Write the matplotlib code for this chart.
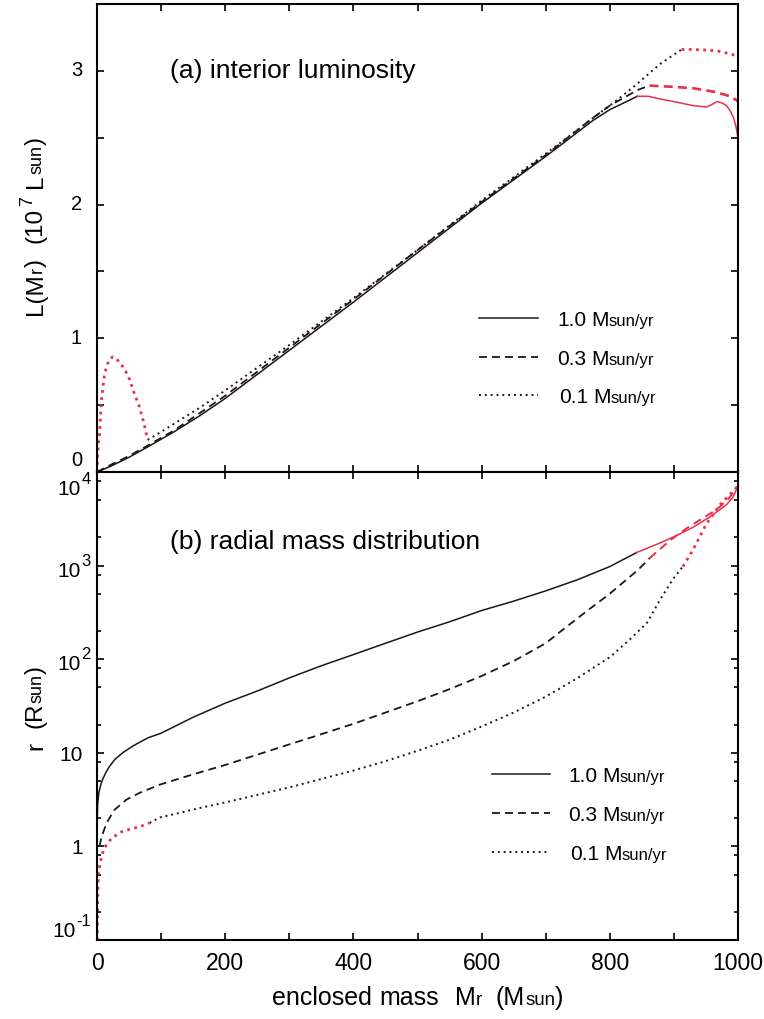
import matplotlib
matplotlib.use("Agg")
import matplotlib.pyplot as plt
from matplotlib import transforms
from matplotlib.lines import Line2D
from matplotlib.ticker import FixedLocator, LogLocator, NullFormatter, MultipleLocator

plt.rcParams['font.family'] = ['Liberation Sans', 'DejaVu Sans']
plt.rcParams['mathtext.fontset'] = 'custom'
plt.rcParams['mathtext.rm'] = 'Liberation Sans'
plt.rcParams['mathtext.it'] = 'Liberation Sans'

# ---------------- data: panel (a) interior luminosity (10^7 Lsun) ----------------
lum_m_solid = [0, 20, 50, 80, 120, 160, 200, 250, 300, 400, 500, 600, 700, 722, 774, 800, 826, 843]
lum_solid = [0, 0.04, 0.11, 0.19, 0.30, 0.42, 0.55, 0.73, 0.91, 1.27, 1.64, 2.01, 2.36, 2.44, 2.63, 2.71, 2.77, 2.81]
lum_m_solid_red = [843, 860, 878, 900, 930, 951, 960, 967, 975, 982, 988, 993, 997, 1000]
lum_solid_red = [2.81, 2.81, 2.79, 2.77, 2.74, 2.73, 2.75, 2.77, 2.76, 2.74, 2.70, 2.65, 2.58, 2.50]

lum_m_dash = [0, 20, 50, 80, 120, 160, 200, 250, 300, 400, 500, 600, 700, 774, 800, 826, 845, 862]
lum_dash = [0, 0.05, 0.12, 0.20, 0.31, 0.44, 0.57, 0.75, 0.93, 1.29, 1.66, 2.02, 2.37, 2.65, 2.74, 2.81, 2.86, 2.89]
lum_m_dash_red = [862, 900, 930, 967, 987, 998, 1000]
lum_dash_red = [2.89, 2.88, 2.87, 2.84, 2.81, 2.78, 2.77]

lum_m_dot_red_low = [0, 1, 2, 4, 7, 12, 18, 24, 30, 35, 43, 51, 58, 66, 73, 79]
lum_dot_red_low = [0, 0.12, 0.20, 0.29, 0.54, 0.74, 0.83, 0.86, 0.85, 0.82, 0.77, 0.69, 0.59, 0.49, 0.37, 0.24]
lum_m_dot = [79, 100, 120, 160, 200, 250, 300, 400, 500, 600, 700, 750, 780, 811, 842, 878, 912]
lum_dot = [0.24, 0.30, 0.36, 0.48, 0.61, 0.78, 0.95, 1.30, 1.66, 2.03, 2.38, 2.56, 2.67, 2.78, 2.90, 3.05, 3.16]
lum_m_dot_red = [912, 930, 950, 967, 985, 1000]
lum_dot_red = [3.16, 3.16, 3.155, 3.15, 3.13, 3.11]

# ---------------- data: panel (b) radius r (Rsun) ----------------
rad_m_solid = [0.5, 1, 3, 6, 9, 14, 19, 28, 40, 55, 66, 80, 100, 150, 200, 250, 300, 350,
               400, 450, 500, 550, 600, 650, 700, 750, 800, 842]
rad_solid = [1.95, 2.82, 3.80, 4.57, 5.25, 6.17, 7.08, 8.51, 10.0, 11.7, 12.9, 14.5, 16.2, 24.0,
             33.9, 45.7, 63.1, 85.1, 112, 148, 195, 251, 331, 417, 537, 708, 977, 1380]
rad_m_solid_red = [842, 878, 910, 930, 956, 982, 992, 1000]
rad_solid_red = [1380, 1740, 2190, 2570, 3310, 4470, 5370, 7080]

rad_m_dash = [4, 7, 15, 27, 46, 66, 98, 150, 200, 250, 300, 350, 400, 450, 500, 550, 600, 650,
              700, 722, 750, 773, 800, 826, 845, 862]
rad_dash = [1.0, 1.26, 1.78, 2.45, 3.16, 3.72, 4.57, 5.89, 7.41, 9.55, 12.3, 15.8, 20.4, 26.9, 35.5,
            47.9, 66.1, 95.5, 148, 195, 275, 363, 501, 708, 912, 1200]
rad_m_dash_red = [862, 894, 920, 941, 960, 972, 986, 1000]
rad_dash_red = [1200, 1860, 2510, 3090, 3720, 4270, 5250, 7080]

rad_m_dot_red_low = [0.3, 1.0, 2.3, 7, 12, 23, 40, 55, 66, 82]
rad_dot_red_low = [0.1, 0.269, 0.525, 0.776, 0.977, 1.23, 1.45, 1.55, 1.62, 1.78]
rad_m_dot = [82, 98, 130, 160, 200, 250, 300, 350, 400, 450, 500, 550, 600, 650, 700, 750, 800,
             831, 858, 878, 898, 914]
rad_dot = [1.78, 2.04, 2.29, 2.57, 2.95, 3.55, 4.27, 5.25, 6.46, 8.13, 10.5, 13.8, 19.1, 26.9, 39.8,
           63.1, 105, 162, 245, 427, 708, 977]
rad_m_dot_red = [914, 930, 951, 972, 986, 1000]
rad_dot_red = [977, 1480, 2820, 4470, 5620, 7080]

legend_labels = ["1.0", "0.3", "0.1"]
lum_yticks = [0, 1, 2, 3]
rad_yticks = [1e4, 1e3, 1e2, 10, 1, 0.1]
rad_ytick_base = ["10", "10", "10", "10", "1", "10"]
rad_ytick_exp = ["4", "3", "2", "", "", "-1"]
mass_ticks = [0, 200, 400, 600, 800, 1000]

# ---------------- styles ----------------
BLACK = '#1e1616'
RED = '#e8304a'
W, H = 764, 1019
fig = plt.figure(figsize=(W / 100, H / 100), dpi=100)

L_AX, R_AX = 97, 738
ax1 = fig.add_axes([L_AX / W, 1 - 472 / H, (R_AX - L_AX) / W, 468 / H])
ax2 = fig.add_axes([L_AX / W, 1 - 940 / H, (R_AX - L_AX) / W, 468 / H])

solid_k = dict(color=BLACK, lw=1.1, ls='-')
solid_r = dict(color=RED, lw=1.1, ls='-')
dash_k = dict(color=BLACK, lw=1.3, dashes=[4.4, 2.8], dash_capstyle='butt')
dash_r = dict(color=RED, lw=1.9, dashes=[3.4, 2.0], dash_capstyle='butt')
dash_r_b = dict(color=RED, lw=1.4, dashes=[4.4, 2.8], dash_capstyle='butt')
dot_k = dict(color=BLACK, lw=1.4, dashes=[1.0, 2.0], dash_capstyle='butt')
dot_r = dict(color=RED, lw=2.0, dashes=[1.0, 1.6], dash_capstyle='butt')

# panel a
ax1.plot(lum_m_solid, lum_solid, **solid_k)
ax1.plot(lum_m_solid_red, lum_solid_red, **solid_r)
ax1.plot(lum_m_dash, lum_dash, **dash_k)
ax1.plot(lum_m_dash_red, lum_dash_red, **dash_r)
ax1.plot(lum_m_dot, lum_dot, **dot_k)
ax1.plot(lum_m_dot_red, lum_dot_red, **dot_r)
ax1.plot(lum_m_dot_red_low, lum_dot_red_low, **dot_r)

# panel b
ax2.plot(rad_m_solid, rad_solid, **solid_k)
ax2.plot(rad_m_solid_red, rad_solid_red, **solid_r)
ax2.plot(rad_m_dash, rad_dash, **dash_k)
ax2.plot(rad_m_dash_red, rad_dash_red, **dash_r_b)
ax2.plot(rad_m_dot, rad_dot, **dot_k)
ax2.plot(rad_m_dot_red, rad_dot_red, **dot_r)
ax2.plot(rad_m_dot_red_low, rad_dot_red_low, **dot_r)

# axes setup
for ax in (ax1, ax2):
    ax.set_xlim(0, 1000)
    for s in ax.spines.values():
        s.set_linewidth(1.5)
    ax.xaxis.set_major_locator(MultipleLocator(100))
    ax.tick_params(axis='both', which='both', direction='in', top=True, right=True,
                   width=1.2, labelleft=False, labelbottom=False)
    ax.tick_params(axis='both', which='major', length=5)
    ax.tick_params(axis='both', which='minor', length=3)

ax1.set_ylim(0, 3.5)
ax1.yaxis.set_major_locator(MultipleLocator(0.5))

ax2.set_yscale('log')
ax2.set_ylim(0.1, 1e4)
ax2.yaxis.set_major_locator(LogLocator(base=10, numticks=20))
ax2.yaxis.set_minor_locator(LogLocator(base=10, subs=(2, 5, 8), numticks=20))
ax2.yaxis.set_minor_formatter(NullFormatter())
ax2.xaxis.set_major_locator(FixedLocator(mass_ticks))
ax2.xaxis.set_minor_locator(MultipleLocator(100))
ax2.tick_params(axis='x', which='minor', length=5)
ax2.tick_params(axis='x', which='major', labelbottom=True, labelsize=16.5, pad=9)
ax2.set_xticklabels([str(v) for v in mass_ticks])
ax1.xaxis.set_minor_locator(MultipleLocator(100))
ax1.tick_params(axis='x', which='minor', length=5)

# top panel y tick labels (end label nudged up like the original)
tr1 = transforms.blended_transform_factory(ax1.transAxes, ax1.transData)
for v in lum_yticks:
    off = transforms.ScaledTranslation(0, 12 / 100 if v == 0 else 0, fig.dpi_scale_trans)
    ax1.text(-15 / (R_AX - L_AX), v, str(v), transform=tr1 + off, ha='right', va='center',
             fontsize=14.5)


# ---------------- rich text helper (mixed sizes) ----------------
def px(x, y):
    return x / W, 1 - y / H


def rich(pieces, x, y, rot=0, align='left'):
    r = fig.canvas.get_renderer()
    items = []
    total = 0.0
    for s, size, rise in pieces:
        if s == '':
            items.append((None, 0, size))
            total += size
            continue
        t = fig.text(0, 0, s, fontsize=size, rotation=rot, rotation_mode='anchor',
                     ha='left', va='baseline')
        bb = t.get_window_extent(r)
        ln = bb.width if rot == 0 else bb.height
        items.append((t, rise, ln))
        total += ln
    pos = {'left': 0.0, 'center': -total / 2, 'right': -total}[align]
    for t, rise, ln in items:
        if t is not None:
            if rot == 0:
                t.set_position(px(x + pos, y - rise))
            else:
                t.set_position(px(x - rise, y - pos))
        pos += ln


# bottom panel y tick labels: "10" with a large raised exponent
for v, base, ex in zip(rad_yticks, rad_ytick_base, rad_ytick_exp):
    ty = H - ax2.transData.transform((0, v))[1]
    if ex:
        dy = 11
        if v == 1e4:
            dy = 23
        elif v == 0.1:
            dy = -3
        rich([(base, 15, 0), ('', 1, 0), (ex, 12, 11)], 91, ty + dy, align='right')
    else:
        rich([(base, 15, 0)], 83, ty + 8, align='right')

# titles
fig.text(*px(170, 78), "(a) interior luminosity", fontsize=19, ha='left', va='baseline')
fig.text(*px(170, 549), "(b) radial mass distribution", fontsize=19, ha='left', va='baseline')

BIG = 15
SMALL = 12


def legend(rows_y, line_x0, line_x1, text_x, styles):
    for (yb, lab, st, tx) in zip(rows_y, legend_labels, styles, text_x):
        fig.add_artist(Line2D([line_x0 / W, line_x1 / W], [1 - (yb - 8) / H] * 2,
                              transform=fig.transFigure, **st))
        rich([(lab, BIG, 0), ('', 5, 0), ('M', BIG, 0), ('sun/yr', SMALL, 0)], tx, yb)


legend([326, 365, 403], 479, 538, [557, 557, 559], [solid_k, dash_k, dot_k])
legend([782, 821, 860], 492, 550, [568, 568, 570], [solid_k, dash_k, dot_k])

# axis labels
AX_BIG = 17.5
AX_SMALL = 13
rich([('L(M', AX_BIG, 0), ('r', AX_SMALL, 0), (')', AX_BIG, 0), ('', 16, 0),
      ('(10', AX_BIG, 0), ('', 2, 0), ('7', AX_SMALL, 10), ('', 8, 0), ('L', AX_BIG, 0),
      ('sun', AX_SMALL, 0), (')', AX_BIG, 0)], 42, 226, rot=90, align='center')
rich([('r', AX_BIG, 0), ('', 14, 0), ('(R', AX_BIG, 0), ('sun', AX_SMALL, 0), (')', AX_BIG, 0)],
     42, 708, rot=90, align='center')
X_BIG = 18
X_SMALL = 13.5
rich([('enclosed', X_BIG, 0), ('', 7, 0), ('mass', X_BIG, 0), ('', 16, 0), ('M', X_BIG, 0),
      ('r', X_SMALL, 0), ('', 14, 0), ('(M', X_BIG, 0), ('sun', X_SMALL, 0), (')', X_BIG, 0)],
     418, 1005, rot=0, align='center')

fig.savefig('out.png', dpi=100)
